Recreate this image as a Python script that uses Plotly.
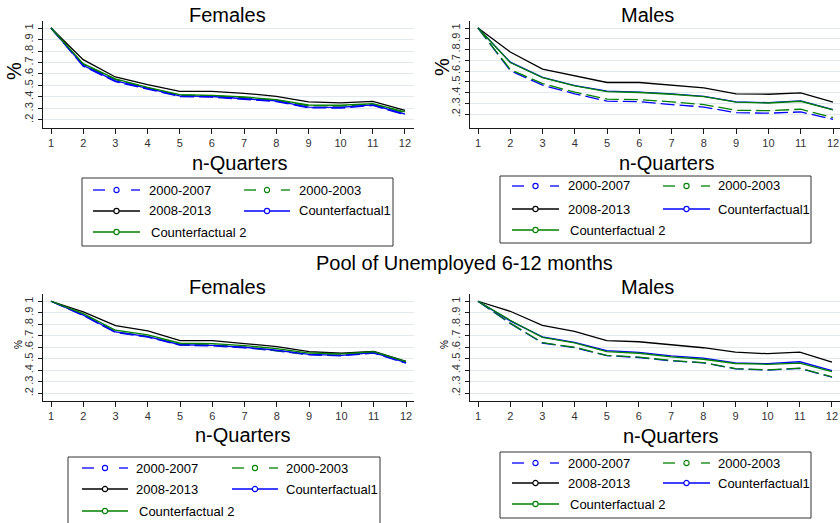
import plotly.graph_objects as go

W, H = 840, 523
FONT = "Liberation Sans, Arial, Helvetica, sans-serif"

quarters = list(range(1, 13))
y_tickvals = [0.2, 0.3, 0.4, 0.5, 0.6, 0.7, 0.8, 0.9, 1.0]
y_ticktext = [".2", ".3", ".4", ".5", ".6", ".7", ".8", ".9", "1"]

series_names = ["2000-2007", "2000-2003", "2008-2013", "Counterfactual1", "Counterfactual 2"]
panel_titles = ["Females", "Males", "Females", "Males"]
section_title = "Pool of Unemployed 6-12 months"
x_title = "n-Quarters"
y_title = "%"

# Share still unemployed after n quarters, first row (females / males)
fem_a_2000_2007 = [1, 0.668, 0.533, 0.466, 0.404, 0.398, 0.381, 0.360, 0.306, 0.303, 0.326, 0.244]
fem_a_2000_2003 = [1, 0.682, 0.550, 0.479, 0.415, 0.410, 0.394, 0.370, 0.323, 0.321, 0.336, 0.263]
fem_a_2008_2013 = [1, 0.725, 0.574, 0.507, 0.449, 0.449, 0.432, 0.406, 0.357, 0.348, 0.362, 0.284]
fem_a_cf1 = [1, 0.675, 0.540, 0.473, 0.410, 0.404, 0.387, 0.366, 0.312, 0.310, 0.332, 0.250]
fem_a_cf2 = [1, 0.690, 0.557, 0.484, 0.420, 0.414, 0.400, 0.377, 0.330, 0.328, 0.342, 0.270]

mal_a_2000_2007 = [1, 0.605, 0.470, 0.390, 0.322, 0.318, 0.290, 0.267, 0.215, 0.210, 0.222, 0.153]
mal_a_2000_2003 = [1, 0.615, 0.485, 0.405, 0.340, 0.336, 0.315, 0.290, 0.237, 0.234, 0.247, 0.170]
mal_a_2008_2013 = [1, 0.777, 0.619, 0.557, 0.495, 0.495, 0.473, 0.445, 0.389, 0.386, 0.398, 0.312]
mal_a_cf1 = [1, 0.683, 0.543, 0.466, 0.414, 0.405, 0.389, 0.367, 0.315, 0.308, 0.324, 0.243]
mal_a_cf2 = [1, 0.680, 0.541, 0.464, 0.411, 0.402, 0.386, 0.364, 0.312, 0.305, 0.321, 0.240]

# Pool of unemployed 6-12 months (females / males)
fem_b_2000_2007 = [1, 0.876, 0.728, 0.688, 0.618, 0.612, 0.595, 0.569, 0.534, 0.526, 0.549, 0.462]
fem_b_2000_2003 = [1, 0.883, 0.736, 0.695, 0.624, 0.620, 0.601, 0.568, 0.538, 0.532, 0.556, 0.468]
fem_b_2008_2013 = [1, 0.907, 0.788, 0.742, 0.658, 0.658, 0.632, 0.606, 0.562, 0.548, 0.565, 0.478]
fem_b_cf1 = [1, 0.880, 0.733, 0.693, 0.622, 0.617, 0.600, 0.574, 0.538, 0.530, 0.553, 0.466]
fem_b_cf2 = [1, 0.893, 0.748, 0.707, 0.635, 0.632, 0.614, 0.588, 0.550, 0.542, 0.562, 0.475]

mal_b_2000_2007 = [1, 0.808, 0.637, 0.597, 0.528, 0.511, 0.482, 0.465, 0.413, 0.402, 0.416, 0.340]
mal_b_2000_2003 = [1, 0.810, 0.640, 0.600, 0.530, 0.514, 0.485, 0.467, 0.415, 0.404, 0.418, 0.343]
mal_b_2008_2013 = [1, 0.913, 0.791, 0.739, 0.657, 0.648, 0.622, 0.596, 0.558, 0.544, 0.558, 0.471]
mal_b_cf1 = [1, 0.830, 0.690, 0.643, 0.570, 0.555, 0.526, 0.506, 0.465, 0.457, 0.474, 0.396]
mal_b_cf2 = [1, 0.835, 0.686, 0.638, 0.562, 0.548, 0.517, 0.496, 0.459, 0.452, 0.463, 0.388]

panels = [
    [fem_a_2000_2007, fem_a_2000_2003, fem_a_2008_2013, fem_a_cf1, fem_a_cf2],
    [mal_a_2000_2007, mal_a_2000_2003, mal_a_2008_2013, mal_a_cf1, mal_a_cf2],
    [fem_b_2000_2007, fem_b_2000_2003, fem_b_2008_2013, fem_b_cf1, fem_b_cf2],
    [mal_b_2000_2007, mal_b_2000_2003, mal_b_2008_2013, mal_b_cf1, mal_b_cf2],
]

BLUE, GREEN, BLACK = "#0000ff", "#008000", "#000000"
styles = [
    dict(color=BLUE, dash="14px,5px"),
    dict(color=GREEN, dash="14px,5px"),
    dict(color=BLACK, dash="solid"),
    dict(color=BLUE, dash="solid"),
    dict(color=GREEN, dash="solid"),
]


def px(x):
    return x / W


def py(y):
    return 1 - y / H


# panel geometry in pixels: x domain, y domain (top, bottom), axis ranges
geom = [
    dict(x=(43, 414), y=(21, 128), xr=(0.751, 12.28), yr=(0.130, 1.061)),
    dict(x=(470, 840), y=(21, 128), xr=(0.752, 12.217), yr=(0.073, 1.065)),
    dict(x=(43, 414), y=(294, 401), xr=(0.752, 12.248), yr=(0.133, 1.063)),
    dict(x=(470, 840), y=(294, 401), xr=(0.751, 12.249), yr=(0.133, 1.063)),
]

fig = go.Figure()

for i, (series, g) in enumerate(zip(panels, geom)):
    sfx = "" if i == 0 else str(i + 1)
    for name, vals, st in zip(series_names, series, styles):
        fig.add_trace(go.Scatter(
            x=quarters, y=vals, mode="lines", name=name, showlegend=False,
            line=dict(color=st["color"], dash=st["dash"], width=1.3),
            xaxis="x" + sfx, yaxis="y" + sfx,
        ))
    fig.layout["xaxis" + sfx] = dict(
        domain=[px(g["x"][0]), px(g["x"][1])], range=list(g["xr"]),
        anchor="y" + sfx, tickvals=quarters, showgrid=False, zeroline=False,
        showline=True, linecolor="#1a1a1a", linewidth=1.3,
        ticks="outside", ticklen=5, tickwidth=1, tickcolor="#1a1a1a",
        tickfont=dict(family=FONT, size=11, color="#333333"),
    )
    fig.layout["yaxis" + sfx] = dict(
        domain=[py(g["y"][1]), py(g["y"][0])], range=list(g["yr"]),
        anchor="x" + sfx, tickvals=y_tickvals, ticktext=y_ticktext,
        tickangle=-90, showgrid=True, gridcolor="#e0eaee", gridwidth=1,
        zeroline=False, showline=True, linecolor="#1a1a1a", linewidth=1.3,
        ticks="outside", ticklen=4, tickwidth=1, tickcolor="#1a1a1a",
        tickfont=dict(family=FONT, size=11, color="#333333"),
    )

annotations = []
shapes = []


def text(x, y, s, size, angle=0, anchor="center", color="#000000"):
    annotations.append(dict(
        x=px(x), y=py(y), xref="paper", yref="paper", text=s, showarrow=False,
        xanchor=anchor, yanchor="middle", textangle=angle,
        font=dict(family=FONT, size=size, color=color),
    ))


# panel titles, axis titles and section heading
title_pos = [(227, 15), (647, 15), (227, 287), (647, 287)]
for t, (x, y) in zip(panel_titles, title_pos):
    text(x, y, t, 20)
text(464, 263, section_title, 20)
for x, y in [(240, 163), (667, 163), (243, 435), (671, 436)]:
    text(x, y, x_title, 20)
for x, y, s in [(14, 71, 20), (442, 67, 20), (18, 345, 10), (444, 345, 10)]:
    text(x, y, y_title, s, angle=-90)

# legends: box, rows, sample columns, text columns
legends = [
    dict(box=(82, 178, 393, 246), rows=(190, 211, 232), c1=(93, 140), c2=(244, 290),
         t1=147, t2=297, t3=149),
    dict(box=(500, 176, 811, 243), rows=(186, 209, 230), c1=(512, 559), c2=(663, 710),
         t1=566, t2=716, t3=568),
    dict(box=(68, 457, 380, 535), rows=(468, 489, 511), c1=(82, 128), c2=(232, 278),
         t1=134, t2=284, t3=137),
    dict(box=(500, 452, 811, 518), rows=(463, 483, 504), c1=(512, 559), c2=(663, 710),
         t1=566, t2=716, t3=568),
]


def seg(x0, x1, y, color):
    shapes.append(dict(type="line", xref="paper", yref="paper",
                       x0=px(x0), x1=px(x1), y0=py(y), y1=py(y),
                       line=dict(color=color, width=1.3)))


def ring(cx, cy, color):
    r = 2.6
    shapes.append(dict(type="circle", xref="paper", yref="paper",
                       x0=px(cx - r), x1=px(cx + r), y0=py(cy + r), y1=py(cy - r),
                       fillcolor="white", line=dict(color=color, width=1.1)))


for lg in legends:
    bx0, by0, bx1, by1 = lg["box"]
    shapes.append(dict(type="rect", xref="paper", yref="paper",
                       x0=px(bx0), x1=px(bx1), y0=py(by1), y1=py(by0),
                       line=dict(color="#333333", width=1), fillcolor="rgba(0,0,0,0)"))
    slots = [
        (lg["c1"], lg["rows"][0], lg["t1"]),
        (lg["c2"], lg["rows"][0], lg["t2"]),
        (lg["c1"], lg["rows"][1], lg["t1"]),
        (lg["c2"], lg["rows"][1], lg["t2"]),
        (lg["c1"], lg["rows"][2], lg["t3"]),
    ]
    for name, st, ((sx0, sx1), ry, tx) in zip(series_names, styles, slots):
        cx = (sx0 + sx1) / 2
        if st["dash"] == "solid":
            seg(sx0, sx1, ry, st["color"])
        else:
            seg(sx0, sx0 + 12, ry, st["color"])
            seg(sx1 - 9, sx1, ry, st["color"])
        ring(cx, ry, st["color"])
        text(tx, ry, name, 13, anchor="left")

fig.update_layout(
    width=W, height=H, autosize=False,
    margin=dict(l=0, r=0, t=0, b=0),
    paper_bgcolor="white", plot_bgcolor="white",
    showlegend=False, annotations=annotations, shapes=shapes,
    font=dict(family=FONT),
)

fig.write_html("out.html")
